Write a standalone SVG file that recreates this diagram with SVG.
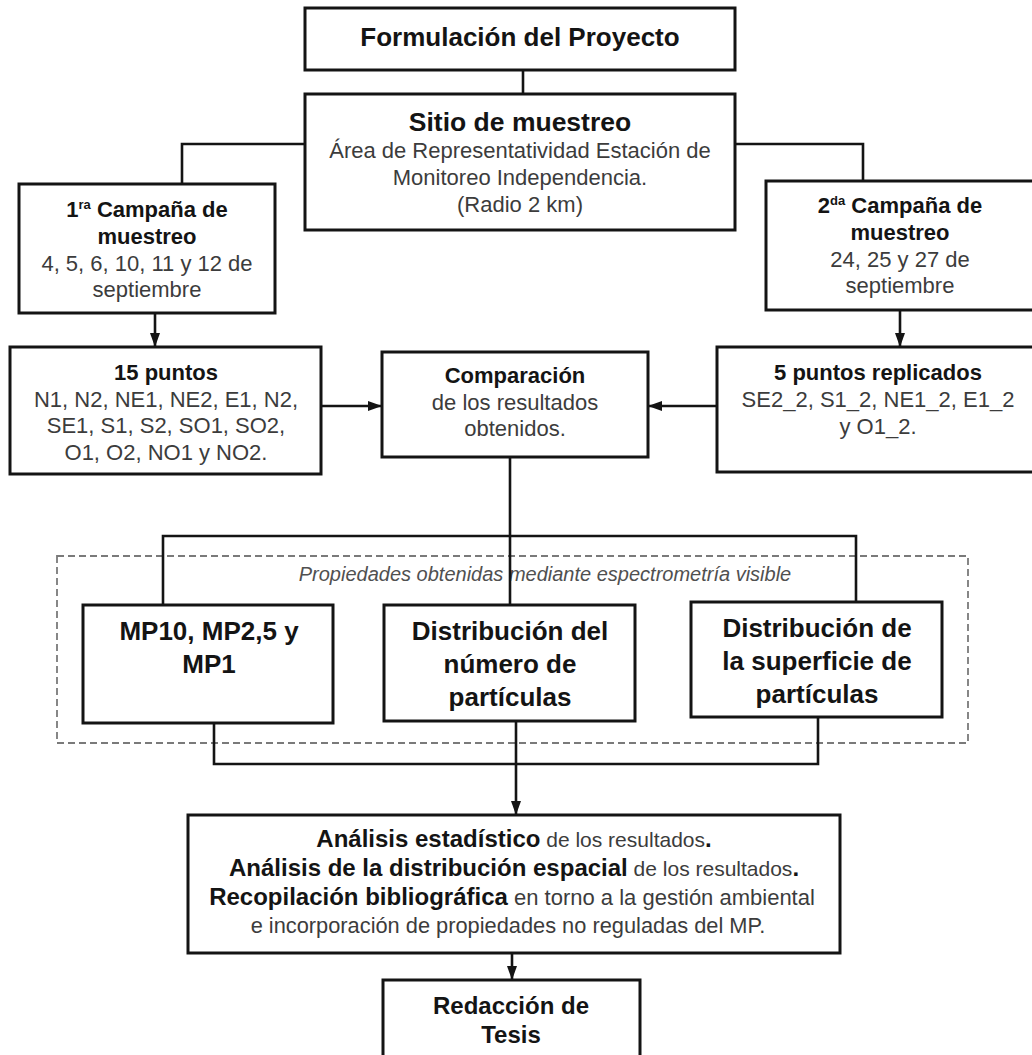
<svg xmlns="http://www.w3.org/2000/svg" width="1032" height="1055" viewBox="0 0 1032 1055">
<style>
.box{fill:#fff;stroke:#141414;stroke-width:3}
.con{fill:none;stroke:#141414;stroke-width:2.6}
text{font-family:"Liberation Sans",Arial,sans-serif;text-anchor:middle}
.b{font-weight:bold;fill:#141414}
.r{fill:#3c3c3c}
.t22{font-size:22px}
.t26{font-size:26px}
.sup{font-size:13px}
</style>
<defs>
<marker id="arrow" viewBox="0 0 14 10" refX="14" refY="5" markerWidth="14" markerHeight="10" markerUnits="userSpaceOnUse" orient="auto">
<path d="M0,0 L14,5 L0,10 z" fill="#141414"/>
</marker>
</defs>
<rect width="1032" height="1055" fill="#fff"/>

<g id="frame-propiedades">
<rect x="57" y="556" width="911" height="187" fill="none" stroke="#7a7a7a" stroke-width="1.8" stroke-dasharray="7,4"/>
<text x="545" y="581" style="font-size:20px;font-style:italic;fill:#505050">Propiedades obtenidas mediante espectrometría visible</text>
</g>

<g id="connectors">
<line class="con" x1="523" y1="70" x2="523" y2="94"/>
<polyline class="con" points="305,144 182,144 182,184"/>
<polyline class="con" points="735,144 863,144 863,181"/>
<line class="con" x1="155" y1="313" x2="155" y2="347" marker-end="url(#arrow)"/>
<line class="con" x1="900" y1="310" x2="900" y2="347" marker-end="url(#arrow)"/>
<line class="con" x1="321" y1="406" x2="382" y2="406" marker-end="url(#arrow)"/>
<line class="con" x1="717" y1="406" x2="648" y2="406" marker-end="url(#arrow)"/>
<line class="con" x1="510" y1="457" x2="510" y2="605"/>
<polyline class="con" points="163,605 163,536 856,536 856,602"/>
<polyline class="con" points="214,723 214,764 818,764 818,717"/>
<line class="con" x1="516" y1="721" x2="516" y2="815" marker-end="url(#arrow)"/>
<line class="con" x1="512" y1="953" x2="512" y2="980" marker-end="url(#arrow)"/>
</g>

<g id="formulacion">
<rect class="box" x="305" y="8" width="430" height="62"/>
<text class="b t26" x="520" y="46">Formulación del Proyecto</text>
</g>

<g id="sitio">
<rect class="box" x="305" y="94" width="430" height="136"/>
<text class="b" x="520" y="131" style="font-size:26.5px">Sitio de muestreo</text>
<text class="r t22" x="520" y="158">Área de Representatividad Estación de</text>
<text class="r t22" x="520" y="185">Monitoreo Independencia.</text>
<text class="r t22" x="520" y="212">(Radio 2 km)</text>
</g>

<g id="campana1">
<rect class="box" x="19" y="184" width="256" height="129"/>
<text class="b t22" x="147" y="217">1<tspan class="sup" dy="-8">ra</tspan><tspan dy="8"> Campaña de</tspan></text>
<text class="b t22" x="147" y="244">muestreo</text>
<text class="r t22" x="147" y="271">4, 5, 6, 10, 11 y 12 de</text>
<text class="r t22" x="147" y="297">septiembre</text>
</g>

<g id="campana2">
<rect class="box" x="766" y="181" width="280" height="129"/>
<text class="b t22" x="900" y="213">2<tspan class="sup" dy="-8">da</tspan><tspan dy="8"> Campaña de</tspan></text>
<text class="b t22" x="900" y="240">muestreo</text>
<text class="r t22" x="900" y="267">24, 25 y 27 de</text>
<text class="r t22" x="900" y="293">septiembre</text>
</g>

<g id="puntos15">
<rect class="box" x="10" y="347" width="311" height="127"/>
<text class="b t22" x="166" y="380">15 puntos</text>
<text class="r t22" x="166" y="407">N1, N2, NE1, NE2, E1, N2,</text>
<text class="r t22" x="166" y="433">SE1, S1, S2, SO1, SO2,</text>
<text class="r t22" x="166" y="460">O1, O2, NO1 y NO2.</text>
</g>

<g id="comparacion">
<rect class="box" x="382" y="352" width="266" height="105"/>
<text class="b t22" x="515" y="383">Comparación</text>
<text class="r t22" x="515" y="410">de los resultados</text>
<text class="r t22" x="515" y="436">obtenidos.</text>
</g>

<g id="puntos5">
<rect class="box" x="717" y="347" width="330" height="125"/>
<text class="b t22" x="878" y="380">5 puntos replicados</text>
<text class="r t22" x="878" y="407">SE2_2, S1_2, NE1_2, E1_2</text>
<text class="r t22" x="878" y="434">y O1_2.</text>
</g>

<g id="mp">
<rect class="box" x="83" y="605" width="250" height="118"/>
<text class="b t26" x="209" y="640">MP10, MP2,5 y</text>
<text class="b t26" x="209" y="673">MP1</text>
</g>

<g id="dist-numero">
<rect class="box" x="384" y="605" width="251" height="116"/>
<text class="b t26" x="510" y="640">Distribución del</text>
<text class="b t26" x="510" y="673">número de</text>
<text class="b t26" x="510" y="706">partículas</text>
</g>

<g id="dist-superficie">
<rect class="box" x="691" y="602" width="251" height="115"/>
<text class="b t26" x="817" y="637">Distribución de</text>
<text class="b t26" x="817" y="670">la superficie de</text>
<text class="b t26" x="817" y="703">partículas</text>
</g>

<g id="analisis">
<rect class="box" x="188" y="815" width="652" height="138"/>
<text x="514" y="847"><tspan class="b" style="font-size:24px">Análisis estadístico</tspan><tspan class="r" style="font-size:21px"> de los resultados</tspan><tspan class="b" style="font-size:24px">.</tspan></text>
<text x="514" y="876"><tspan class="b" style="font-size:24px">Análisis de la distribución espacial</tspan><tspan class="r" style="font-size:21px"> de los resultados</tspan><tspan class="b" style="font-size:24px">.</tspan></text>
<text x="512" y="905"><tspan class="b" style="font-size:24px">Recopilación bibliográfica</tspan><tspan class="r" style="font-size:22px"> en torno a la gestión ambiental</tspan></text>
<text class="r" x="508" y="933" style="font-size:21.8px">e incorporación de propiedades no reguladas del MP.</text>
</g>

<g id="redaccion">
<rect class="box" x="383" y="980" width="257" height="90"/>
<text class="b" x="511" y="1014" style="font-size:24px">Redacción de</text>
<text class="b" x="511" y="1043" style="font-size:24px">Tesis</text>
</g>
</svg>
